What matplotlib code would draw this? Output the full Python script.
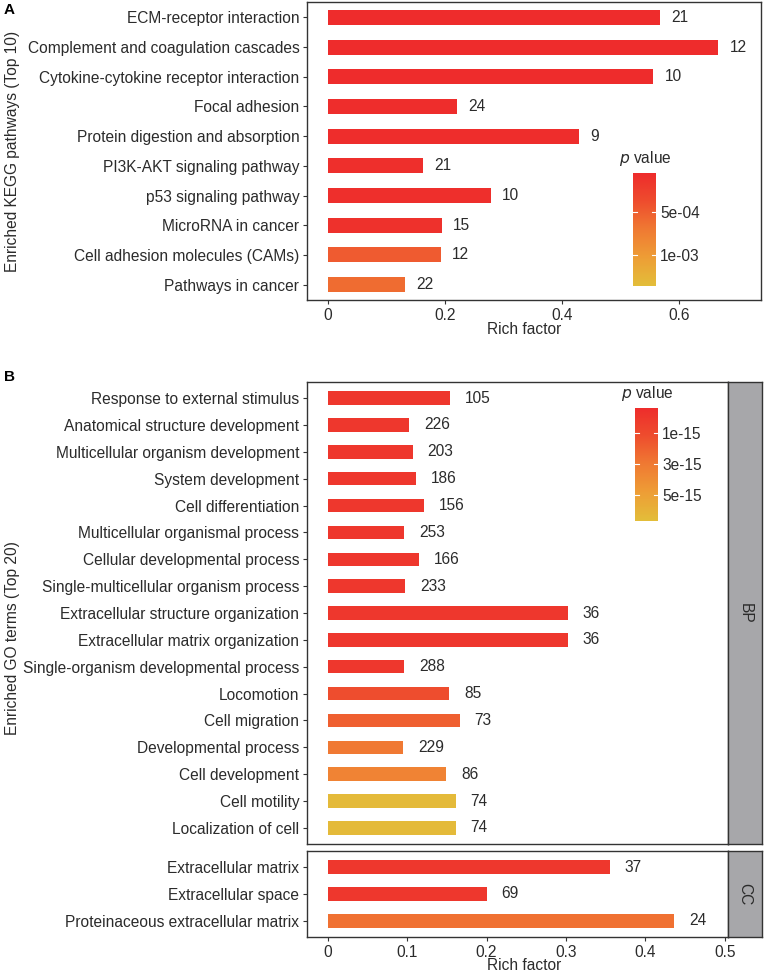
import matplotlib
matplotlib.use("Agg")
import matplotlib.pyplot as plt
import numpy as np
from matplotlib.colors import LinearSegmentedColormap, Normalize

plt.rcParams['font.family'] = ['Liberation Sans', 'DejaVu Sans']

# panel A: KEGG
kegg_terms = ["ECM-receptor interaction", "Complement and coagulation cascades",
              "Cytokine-cytokine receptor interaction", "Focal adhesion",
              "Protein digestion and absorption", "PI3K-AKT signaling pathway",
              "p53 signaling pathway", "MicroRNA in cancer",
              "Cell adhesion molecules (CAMs)", "Pathways in cancer"]
kegg_rich = [0.567, 0.667, 0.556, 0.220, 0.429, 0.163, 0.278, 0.195, 0.193, 0.131]
kegg_count = [21, 12, 10, 24, 9, 21, 10, 15, 12, 22]
kegg_p = [5e-5, 5e-5, 5e-5, 6e-5, 6e-5, 8e-5, 8e-5, 1e-4, 4.8e-4, 6.0e-4]
kegg_plim = [4.6e-5, 1.36e-3]
kegg_ticks = [5e-4, 1e-3]
kegg_ticklabels = ["5e-04", "1e-03"]

# panel B: GO (BP / CC)
bp_terms = ["Response to external stimulus", "Anatomical structure development",
            "Multicellular organism development", "System development",
            "Cell differentiation", "Multicellular organismal process",
            "Cellular developmental process", "Single-multicellular organism process",
            "Extracellular structure organization", "Extracellular matrix organization",
            "Single-organism developmental process", "Locomotion", "Cell migration",
            "Developmental process", "Cell development", "Cell motility",
            "Localization of cell"]
bp_rich = [0.154, 0.102, 0.107, 0.111, 0.121, 0.096, 0.115, 0.097, 0.302, 0.302,
           0.096, 0.153, 0.166, 0.095, 0.149, 0.161, 0.161]
bp_count = [105, 226, 203, 186, 156, 253, 166, 233, 36, 36, 288, 85, 73, 229, 86, 74, 74]
bp_p = [1e-18, 1e-18, 1e-18, 1e-18, 1e-18, 1e-18, 1e-18, 1e-18, 1e-18, 1e-18,
        2e-17, 1.2e-15, 1.95e-15, 3.0e-15, 3.5e-15, 6.5e-15, 6.5e-15]

cc_terms = ["Extracellular matrix", "Extracellular space",
            "Proteinaceous extracellular matrix"]
cc_rich = [0.355, 0.200, 0.436]
cc_count = [37, 69, 24]
cc_p = [1e-18, 1e-17, 2.7e-15]

go_plim = [-0.6e-15, 6.7e-15]
go_ticks = [1e-15, 3e-15, 5e-15]
go_ticklabels = ["1e-15", "3e-15", "5e-15"]

cmap = LinearSegmentedColormap.from_list(
    "pv", [(0, "#EE2C2C"), (0.25, "#EE4D2E"), (0.5, "#F07A33"),
           (0.75, "#EE9E36"), (1, "#E3BE3A")])

W, H = 767, 975
fig = plt.figure(figsize=(W / 100, H / 100), dpi=100)
TXT = "#2b2b2b"
FS = 11.2


def ax_px(l, t, r, b):
    return fig.add_axes([l / W, 1 - b / H, (r - l) / W, (b - t) / H])


def style(ax):
    for s in ax.spines.values():
        s.set_color("#333333")
        s.set_linewidth(1.0)
    ax.tick_params(length=3, width=0.8, color="#333333", labelsize=FS,
                   labelcolor=TXT, pad=2.5)


def bars(ax, terms, rich, count, pv, norm):
    y = np.arange(len(terms))
    ax.barh(y, rich, height=0.5, color=cmap(norm(np.array(pv))), edgecolor="none")
    for yi, r, c in zip(y, rich, count):
        ax.text(r + 0.019, yi, str(c), va="center", ha="left", fontsize=FS, color=TXT)
    ax.set_yticks(y)
    ax.set_yticklabels(terms)
    ax.set_ylim(len(terms) - 0.4, -0.6)
    style(ax)


def cbar(l, t, r, b, lim, ticks, labels, norm):
    cax = ax_px(l, t, r, b)
    grad = np.linspace(lim[0], lim[1], 256)[:, None]
    cax.imshow(grad, cmap=cmap, norm=norm, aspect="auto",
               extent=[0, 1, lim[1], lim[0]], origin="upper")
    cax.set_xlim(0, 1)
    cax.set_ylim(lim[1], lim[0])
    for tv in ticks:
        cax.plot([0, 0.18], [tv, tv], color="white", lw=0.8)
        cax.plot([0.82, 1], [tv, tv], color="white", lw=0.8)
    cax.set_xticks([])
    cax.yaxis.tick_right()
    cax.set_yticks(ticks)
    cax.set_yticklabels(labels)
    cax.tick_params(length=0, labelsize=FS, labelcolor=TXT, pad=3)
    for s in cax.spines.values():
        s.set_visible(False)
    cax.text(-0.6, 1.04, r"$\it{p}$ value", transform=cax.transAxes,
             fontsize=FS, color=TXT, ha="left", va="bottom")


# ---- panel A
normA = Normalize(kegg_plim[0], kegg_plim[1])
axA = ax_px(307, 2, 761, 300)
bars(axA, kegg_terms, kegg_rich, kegg_count, kegg_p, normA)
axA.set_ylim(9.52, -0.52)
axA.set_xlim(-0.036, 0.74)
axA.set_xticks([0, 0.2, 0.4, 0.6])
axA.set_xticklabels(["0", "0.2", "0.4", "0.6"])
cbar(633, 173, 656, 286, kegg_plim, kegg_ticks, kegg_ticklabels, normA)

fig.text(524 / W, 1 - 329 / H, "Rich factor", ha="center", va="center",
         fontsize=FS, color=TXT)
fig.text(13 / W, 1 - 151 / H, "Enriched KEGG pathways (Top 10)", rotation=90,
         ha="center", va="center", fontsize=FS, color=TXT)
fig.text(4 / W, 1 - 10 / H, "A", fontsize=11, fontweight="bold", ha="left", va="center")

# ---- panel B
normB = Normalize(go_plim[0], go_plim[1])
axBP = ax_px(307, 382, 728, 844)
bars(axBP, bp_terms, bp_rich, bp_count, bp_p, normB)
axBP.set_xlim(-0.026, 0.504)
axBP.set_xticks([])

axCC = ax_px(307, 851, 728, 937)
bars(axCC, cc_terms, cc_rich, cc_count, cc_p, normB)
axCC.set_xlim(-0.026, 0.504)
axCC.set_xticks([0, 0.1, 0.2, 0.3, 0.4, 0.5])
axCC.set_xticklabels(["0", "0.1", "0.2", "0.3", "0.4", "0.5"])

for (t, b, lab) in [(382, 844, "BP"), (851, 937, "CC")]:
    sax = ax_px(728, t, 762, b)
    sax.set_facecolor("#A7A7AA")
    sax.set_xticks([])
    sax.set_yticks([])
    for s in sax.spines.values():
        s.set_color("#333333")
        s.set_linewidth(1.0)
    sax.text(0.5, 0.5, lab, rotation=-90, ha="center", va="center",
             fontsize=FS, color=TXT, transform=sax.transAxes)

cbar(635, 408, 658, 521, go_plim, go_ticks, go_ticklabels, normB)

fig.text(524 / W, 1 - 966 / H, "Rich factor", ha="center", va="center",
         fontsize=FS, color=TXT)
fig.text(13 / W, 1 - 638 / H, "Enriched GO terms (Top 20)", rotation=90,
         ha="center", va="center", fontsize=FS, color=TXT)
fig.text(4 / W, 1 - 377 / H, "B", fontsize=11, fontweight="bold", ha="left", va="center")

fig.savefig("out.png", dpi=100)
